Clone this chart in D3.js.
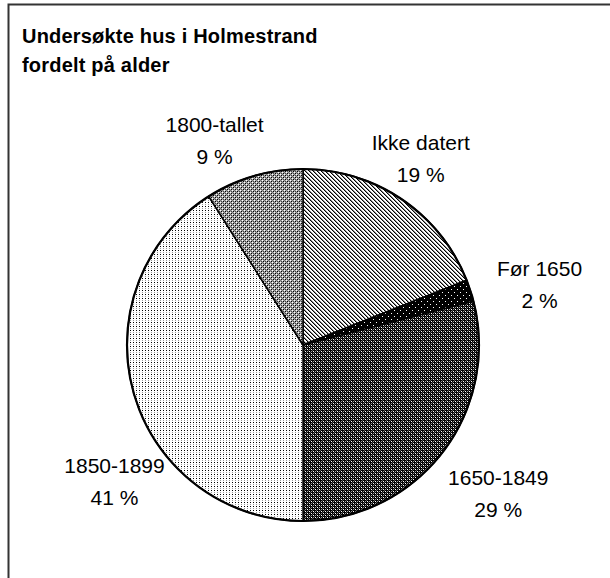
<!DOCTYPE html>
<html>
<head>
<meta charset="utf-8">
<script src="https://cdn.jsdelivr.net/npm/d3@7"></script>
<style>
  body { margin: 0; background: #fff; }
  text { font-family: "Liberation Sans", Arial, sans-serif; }
</style>
</head>
<body>
<div id="chart"></div>
<script>
// data
var categories = ["Ikke datert", "Før 1650", "1650-1849", "1850-1899", "1800-tallet"];
var shares = [19, 2, 29, 41, 9];
var titleLines = ["Undersøkte hus i Holmestrand", "fordelt på alder"];

var width = 610, height = 578;
var cx = 303, cy = 345, radius = 176;

var svg = d3.select("#chart").append("svg")
  .attr("width", width)
  .attr("height", height);

// fill patterns, one per slice (pixel textures like the old office charts)
var defs = svg.append("defs");
var patternDefs = [
  { id: "p0", w: 4, h: 4, bg: "#fff", px: [[0,0,"#000"],[1,1,"#000"],[2,2,"#000"],[3,3,"#000"],[1,0,"#888"],[2,1,"#888"],[3,2,"#888"],[0,3,"#888"]] },
  { id: "p1", w: 6, h: 6, bg: "#000", px: [[1,1,"#fff"],[4,4,"#fff"]] },
  { id: "p2", w: 4, h: 4, bg: "#000", px: [[0,0,"#fff"],[2,2,"#fff"],[2,0,"#999"],[0,2,"#999"],[1,1,"#555"],[3,3,"#555"]] },
  { id: "p3", w: 3, h: 4, bg: "#fff", px: [[1,1,"#000"],[1,3,"#999"]] },
  { id: "p4", w: 4, h: 4, bg: "#aaa", px: [[0,0,"#000"],[2,2,"#000"],[2,0,"#444"],[0,2,"#444"],[1,1,"#fff"],[3,3,"#fff"],[1,3,"#777"],[3,1,"#777"]] }
];
patternDefs.forEach(function(p) {
  var pat = defs.append("pattern")
    .attr("id", p.id)
    .attr("patternUnits", "userSpaceOnUse")
    .attr("width", p.w)
    .attr("height", p.h);
  pat.append("rect").attr("width", p.w).attr("height", p.h).attr("fill", p.bg);
  p.px.forEach(function(q) {
    pat.append("rect").attr("x", q[0]).attr("y", q[1])
      .attr("width", 1).attr("height", 1).attr("fill", q[2]);
  });
});

// frame (only top and left edges show)
svg.append("path")
  .attr("d", "M8.5," + height + " L8.5,4.5 L" + width + ",4.5")
  .attr("fill", "none")
  .attr("stroke", "#333")
  .attr("stroke-width", 2);

// title
svg.selectAll(".title")
  .data(titleLines)
  .enter().append("text")
  .attr("class", "title")
  .attr("x", 22)
  .attr("y", function(d, i) { return 43 + i * 29; })
  .attr("font-size", 20)
  .attr("font-weight", "bold")
  .attr("letter-spacing", 0.2)
  .text(function(d) { return d; });

// pie
var pie = d3.pie().sort(null).value(function(d) { return d; });
var arc = d3.arc().innerRadius(0).outerRadius(radius);
var arcs = pie(shares);

var g = svg.append("g").attr("transform", "translate(" + cx + "," + cy + ")");

g.selectAll(".slice")
  .data(arcs)
  .enter().append("path")
  .attr("class", "slice")
  .attr("d", arc)
  .attr("fill", function(d, i) { return "url(#p" + i + ")"; })
  .attr("stroke", "#000")
  .attr("stroke-width", 1.5)
  .attr("stroke-linejoin", "round");

g.append("circle")
  .attr("r", radius)
  .attr("fill", "none")
  .attr("stroke", "#000")
  .attr("stroke-width", 2.2);

// labels outside the pie, nudged from the arc centroid like Excel placed them
var labelArc = d3.arc().innerRadius(radius * 1.21).outerRadius(radius * 1.21);
var labelNudge = [[-2, -10], [34, 5], [27, 18], [16, 77], [-29, 0]];

var labels = g.selectAll(".label")
  .data(arcs)
  .enter().append("text")
  .attr("class", "label")
  .attr("text-anchor", "middle")
  .attr("font-size", 21)
  .attr("transform", function(d, i) {
    var c = labelArc.centroid(d);
    return "translate(" + (c[0] + labelNudge[i][0]) + "," + (c[1] + labelNudge[i][1]) + ")";
  });

labels.append("tspan")
  .attr("x", 0)
  .attr("y", -8.5)
  .text(function(d, i) { return categories[i]; });
labels.append("tspan")
  .attr("x", 0)
  .attr("y", 23.5)
  .text(function(d) { return d.value + " %"; });
</script>
</body>
</html>
